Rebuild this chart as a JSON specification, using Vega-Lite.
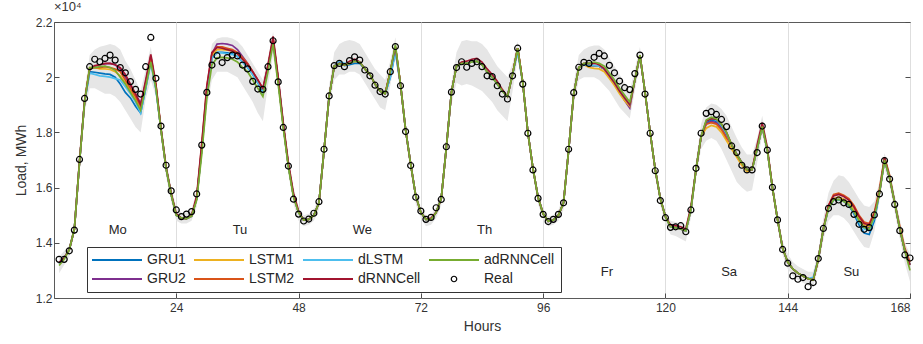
{
"$schema": "https://vega.github.io/schema/vega-lite/v6.json",
"width": 856, "height": 276,
"autosize": {"type": "none"},
"padding": {"left": 54, "top": 22, "right": 13, "bottom": 46},
"title": {"text": "×10⁴", "anchor": "start", "frame": "group", "fontSize": 13, "fontWeight": "normal", "color": "#333", "offset": 2, "font": "Liberation Sans"},
"datasets": {
"d": [
{"h":1,"Real":1.340,"lo":1.29,"hi":1.35,"GRU1":1.325,"GRU2":1.325,"LSTM1":1.325,"LSTM2":1.328,"dLSTM":1.325,"dRNNCell":1.328,"adRNNCell":1.318},
{"h":2,"Real":1.340,"lo":1.32,"hi":1.37,"GRU1":1.345,"GRU2":1.345,"LSTM1":1.345,"LSTM2":1.345,"dLSTM":1.345,"dRNNCell":1.345,"adRNNCell":1.34},
{"h":3,"Real":1.371,"lo":1.35,"hi":1.39,"GRU1":1.375,"GRU2":1.375,"LSTM1":1.375,"LSTM2":1.375,"dLSTM":1.375,"dRNNCell":1.375,"adRNNCell":1.375},
{"h":4,"Real":1.446,"lo":1.43,"hi":1.47,"GRU1":1.45,"GRU2":1.45,"LSTM1":1.45,"LSTM2":1.45,"dLSTM":1.45,"dRNNCell":1.45,"adRNNCell":1.45},
{"h":5,"Real":1.702,"lo":1.66,"hi":1.72,"GRU1":1.69,"GRU2":1.69,"LSTM1":1.69,"LSTM2":1.69,"dLSTM":1.69,"dRNNCell":1.695,"adRNNCell":1.69},
{"h":6,"Real":1.923,"lo":1.87,"hi":1.95,"GRU1":1.91,"GRU2":1.91,"LSTM1":1.91,"LSTM2":1.91,"dLSTM":1.91,"dRNNCell":1.915,"adRNNCell":1.91},
{"h":7,"Real":2.038,"lo":1.96,"hi":2.08,"GRU1":2.02,"GRU2":2.03,"LSTM1":2.035,"LSTM2":2.03,"dLSTM":2.015,"dRNNCell":2.03,"adRNNCell":2.035},
{"h":8,"Real":2.065,"lo":1.96,"hi":2.10,"GRU1":2.018,"GRU2":2.04,"LSTM1":2.035,"LSTM2":2.035,"dLSTM":2.01,"dRNNCell":2.042,"adRNNCell":2.035},
{"h":9,"Real":2.056,"lo":1.95,"hi":2.11,"GRU1":2.015,"GRU2":2.045,"LSTM1":2.03,"LSTM2":2.035,"dLSTM":2.005,"dRNNCell":2.045,"adRNNCell":2.038},
{"h":10,"Real":2.068,"lo":1.94,"hi":2.115,"GRU1":2.012,"GRU2":2.048,"LSTM1":2.03,"LSTM2":2.038,"dLSTM":2.003,"dRNNCell":2.05,"adRNNCell":2.04},
{"h":11,"Real":2.080,"lo":1.94,"hi":2.12,"GRU1":2.01,"GRU2":2.05,"LSTM1":2.028,"LSTM2":2.035,"dLSTM":2.0,"dRNNCell":2.05,"adRNNCell":2.035},
{"h":12,"Real":2.062,"lo":1.93,"hi":2.115,"GRU1":2.0,"GRU2":2.045,"LSTM1":2.02,"LSTM2":2.03,"dLSTM":1.995,"dRNNCell":2.045,"adRNNCell":2.025},
{"h":13,"Real":2.035,"lo":1.91,"hi":2.10,"GRU1":1.975,"GRU2":2.03,"LSTM1":2.005,"LSTM2":2.02,"dLSTM":1.99,"dRNNCell":2.035,"adRNNCell":2.0},
{"h":14,"Real":2.016,"lo":1.88,"hi":2.06,"GRU1":1.945,"GRU2":2.0,"LSTM1":1.98,"LSTM2":1.99,"dLSTM":1.965,"dRNNCell":2.01,"adRNNCell":1.975},
{"h":15,"Real":1.984,"lo":1.85,"hi":2.03,"GRU1":1.925,"GRU2":1.97,"LSTM1":1.95,"LSTM2":1.96,"dLSTM":1.94,"dRNNCell":1.975,"adRNNCell":1.945},
{"h":16,"Real":1.956,"lo":1.82,"hi":1.99,"GRU1":1.895,"GRU2":1.94,"LSTM1":1.92,"LSTM2":1.93,"dLSTM":1.91,"dRNNCell":1.94,"adRNNCell":1.915},
{"h":17,"Real":1.939,"lo":1.80,"hi":1.95,"GRU1":1.87,"GRU2":1.905,"LSTM1":1.885,"LSTM2":1.895,"dLSTM":1.87,"dRNNCell":1.90,"adRNNCell":1.88},
{"h":18,"Real":2.038,"lo":1.92,"hi":2.03,"GRU1":1.96,"GRU2":1.98,"LSTM1":1.97,"LSTM2":1.98,"dLSTM":1.96,"dRNNCell":1.99,"adRNNCell":1.965},
{"h":19,"Real":2.144,"lo":1.99,"hi":2.11,"GRU1":2.06,"GRU2":2.075,"LSTM1":2.07,"LSTM2":2.075,"dLSTM":2.05,"dRNNCell":2.083,"adRNNCell":2.055},
{"h":20,"Real":1.996,"lo":1.93,"hi":2.0,"GRU1":1.96,"GRU2":1.965,"LSTM1":1.965,"LSTM2":1.97,"dLSTM":1.955,"dRNNCell":1.975,"adRNNCell":1.96},
{"h":21,"Real":1.823,"lo":1.78,"hi":1.84,"GRU1":1.81,"GRU2":1.81,"LSTM1":1.81,"LSTM2":1.81,"dLSTM":1.81,"dRNNCell":1.815,"adRNNCell":1.81},
{"h":22,"Real":1.681,"lo":1.64,"hi":1.70,"GRU1":1.67,"GRU2":1.67,"LSTM1":1.67,"LSTM2":1.67,"dLSTM":1.67,"dRNNCell":1.675,"adRNNCell":1.67},
{"h":23,"Real":1.588,"lo":1.55,"hi":1.60,"GRU1":1.575,"GRU2":1.575,"LSTM1":1.575,"LSTM2":1.575,"dLSTM":1.575,"dRNNCell":1.58,"adRNNCell":1.575},
{"h":24,"Real":1.519,"lo":1.48,"hi":1.53,"GRU1":1.50,"GRU2":1.50,"LSTM1":1.50,"LSTM2":1.50,"dLSTM":1.50,"dRNNCell":1.505,"adRNNCell":1.50},
{"h":25,"Real":1.495,"lo":1.47,"hi":1.51,"GRU1":1.49,"GRU2":1.49,"LSTM1":1.49,"LSTM2":1.49,"dLSTM":1.49,"dRNNCell":1.49,"adRNNCell":1.49},
{"h":26,"Real":1.504,"lo":1.47,"hi":1.51,"GRU1":1.488,"GRU2":1.488,"LSTM1":1.488,"LSTM2":1.488,"dLSTM":1.488,"dRNNCell":1.488,"adRNNCell":1.488},
{"h":27,"Real":1.513,"lo":1.48,"hi":1.52,"GRU1":1.497,"GRU2":1.497,"LSTM1":1.497,"LSTM2":1.497,"dLSTM":1.497,"dRNNCell":1.50,"adRNNCell":1.497},
{"h":28,"Real":1.577,"lo":1.53,"hi":1.59,"GRU1":1.56,"GRU2":1.56,"LSTM1":1.56,"LSTM2":1.56,"dLSTM":1.56,"dRNNCell":1.57,"adRNNCell":1.555},
{"h":29,"Real":1.754,"lo":1.70,"hi":1.78,"GRU1":1.74,"GRU2":1.74,"LSTM1":1.74,"LSTM2":1.755,"dLSTM":1.74,"dRNNCell":1.76,"adRNNCell":1.72},
{"h":30,"Real":1.945,"lo":1.89,"hi":1.99,"GRU1":1.95,"GRU2":1.95,"LSTM1":1.95,"LSTM2":1.965,"dLSTM":1.95,"dRNNCell":1.97,"adRNNCell":1.925},
{"h":31,"Real":2.044,"lo":1.99,"hi":2.12,"GRU1":2.07,"GRU2":2.085,"LSTM1":2.075,"LSTM2":2.085,"dLSTM":2.07,"dRNNCell":2.09,"adRNNCell":2.045},
{"h":32,"Real":2.078,"lo":2.02,"hi":2.14,"GRU1":2.09,"GRU2":2.12,"LSTM1":2.10,"LSTM2":2.11,"dLSTM":2.09,"dRNNCell":2.108,"adRNNCell":2.07},
{"h":33,"Real":2.053,"lo":2.02,"hi":2.145,"GRU1":2.09,"GRU2":2.122,"LSTM1":2.10,"LSTM2":2.11,"dLSTM":2.088,"dRNNCell":2.105,"adRNNCell":2.072},
{"h":34,"Real":2.071,"lo":2.02,"hi":2.145,"GRU1":2.088,"GRU2":2.12,"LSTM1":2.098,"LSTM2":2.105,"dLSTM":2.085,"dRNNCell":2.10,"adRNNCell":2.07},
{"h":35,"Real":2.080,"lo":2.01,"hi":2.14,"GRU1":2.085,"GRU2":2.115,"LSTM1":2.095,"LSTM2":2.10,"dLSTM":2.082,"dRNNCell":2.095,"adRNNCell":2.065},
{"h":36,"Real":2.077,"lo":2.0,"hi":2.13,"GRU1":2.075,"GRU2":2.10,"LSTM1":2.085,"LSTM2":2.09,"dLSTM":2.075,"dRNNCell":2.085,"adRNNCell":2.055},
{"h":37,"Real":2.044,"lo":1.97,"hi":2.11,"GRU1":2.055,"GRU2":2.075,"LSTM1":2.065,"LSTM2":2.07,"dLSTM":2.055,"dRNNCell":2.065,"adRNNCell":2.035},
{"h":38,"Real":2.030,"lo":1.94,"hi":2.08,"GRU1":2.035,"GRU2":2.05,"LSTM1":2.045,"LSTM2":2.05,"dLSTM":2.035,"dRNNCell":2.045,"adRNNCell":2.02},
{"h":39,"Real":1.985,"lo":1.91,"hi":2.05,"GRU1":2.01,"GRU2":2.02,"LSTM1":2.015,"LSTM2":2.02,"dLSTM":2.01,"dRNNCell":2.02,"adRNNCell":1.99},
{"h":40,"Real":1.957,"lo":1.87,"hi":2.02,"GRU1":1.98,"GRU2":1.99,"LSTM1":1.985,"LSTM2":1.99,"dLSTM":1.98,"dRNNCell":1.99,"adRNNCell":1.96},
{"h":41,"Real":1.956,"lo":1.84,"hi":1.99,"GRU1":1.945,"GRU2":1.955,"LSTM1":1.95,"LSTM2":1.955,"dLSTM":1.945,"dRNNCell":1.96,"adRNNCell":1.93},
{"h":42,"Real":2.038,"lo":1.97,"hi":2.07,"GRU1":2.04,"GRU2":2.04,"LSTM1":2.04,"LSTM2":2.04,"dLSTM":2.04,"dRNNCell":2.045,"adRNNCell":2.02},
{"h":43,"Real":2.132,"lo":2.08,"hi":2.165,"GRU1":2.13,"GRU2":2.135,"LSTM1":2.135,"LSTM2":2.14,"dLSTM":2.13,"dRNNCell":2.148,"adRNNCell":2.12},
{"h":44,"Real":1.983,"lo":1.95,"hi":2.02,"GRU1":1.99,"GRU2":1.99,"LSTM1":1.99,"LSTM2":1.99,"dLSTM":1.99,"dRNNCell":2.0,"adRNNCell":1.975},
{"h":45,"Real":1.818,"lo":1.79,"hi":1.85,"GRU1":1.825,"GRU2":1.825,"LSTM1":1.825,"LSTM2":1.825,"dLSTM":1.825,"dRNNCell":1.835,"adRNNCell":1.815},
{"h":46,"Real":1.678,"lo":1.65,"hi":1.71,"GRU1":1.68,"GRU2":1.68,"LSTM1":1.68,"LSTM2":1.68,"dLSTM":1.68,"dRNNCell":1.69,"adRNNCell":1.675},
{"h":47,"Real":1.558,"lo":1.54,"hi":1.60,"GRU1":1.57,"GRU2":1.57,"LSTM1":1.57,"LSTM2":1.57,"dLSTM":1.57,"dRNNCell":1.58,"adRNNCell":1.565},
{"h":48,"Real":1.504,"lo":1.48,"hi":1.53,"GRU1":1.51,"GRU2":1.51,"LSTM1":1.51,"LSTM2":1.51,"dLSTM":1.51,"dRNNCell":1.515,"adRNNCell":1.51},
{"h":49,"Real":1.479,"lo":1.46,"hi":1.50,"GRU1":1.482,"GRU2":1.482,"LSTM1":1.482,"LSTM2":1.482,"dLSTM":1.482,"dRNNCell":1.482,"adRNNCell":1.482},
{"h":50,"Real":1.486,"lo":1.465,"hi":1.505,"GRU1":1.485,"GRU2":1.485,"LSTM1":1.485,"LSTM2":1.485,"dLSTM":1.485,"dRNNCell":1.485,"adRNNCell":1.485},
{"h":51,"Real":1.507,"lo":1.48,"hi":1.52,"GRU1":1.50,"GRU2":1.50,"LSTM1":1.50,"LSTM2":1.50,"dLSTM":1.50,"dRNNCell":1.50,"adRNNCell":1.50},
{"h":52,"Real":1.549,"lo":1.52,"hi":1.57,"GRU1":1.545,"GRU2":1.545,"LSTM1":1.545,"LSTM2":1.545,"dLSTM":1.545,"dRNNCell":1.545,"adRNNCell":1.545},
{"h":53,"Real":1.739,"lo":1.70,"hi":1.77,"GRU1":1.735,"GRU2":1.735,"LSTM1":1.735,"LSTM2":1.735,"dLSTM":1.735,"dRNNCell":1.735,"adRNNCell":1.735},
{"h":54,"Real":1.932,"lo":1.89,"hi":1.97,"GRU1":1.93,"GRU2":1.93,"LSTM1":1.93,"LSTM2":1.93,"dLSTM":1.93,"dRNNCell":1.93,"adRNNCell":1.93},
{"h":55,"Real":2.042,"lo":1.99,"hi":2.09,"GRU1":2.04,"GRU2":2.04,"LSTM1":2.04,"LSTM2":2.04,"dLSTM":2.04,"dRNNCell":2.04,"adRNNCell":2.04},
{"h":56,"Real":2.050,"lo":2.01,"hi":2.12,"GRU1":2.055,"GRU2":2.05,"LSTM1":2.05,"LSTM2":2.05,"dLSTM":2.058,"dRNNCell":2.05,"adRNNCell":2.048},
{"h":57,"Real":2.038,"lo":2.01,"hi":2.13,"GRU1":2.042,"GRU2":2.045,"LSTM1":2.045,"LSTM2":2.045,"dLSTM":2.05,"dRNNCell":2.045,"adRNNCell":2.045},
{"h":58,"Real":2.060,"lo":2.02,"hi":2.135,"GRU1":2.045,"GRU2":2.05,"LSTM1":2.05,"LSTM2":2.05,"dLSTM":2.05,"dRNNCell":2.058,"adRNNCell":2.05},
{"h":59,"Real":2.074,"lo":2.02,"hi":2.13,"GRU1":2.05,"GRU2":2.058,"LSTM1":2.058,"LSTM2":2.058,"dLSTM":2.058,"dRNNCell":2.065,"adRNNCell":2.058},
{"h":60,"Real":2.062,"lo":2.01,"hi":2.12,"GRU1":2.05,"GRU2":2.055,"LSTM1":2.055,"LSTM2":2.055,"dLSTM":2.055,"dRNNCell":2.055,"adRNNCell":2.055},
{"h":61,"Real":2.026,"lo":1.98,"hi":2.09,"GRU1":2.03,"GRU2":2.03,"LSTM1":2.03,"LSTM2":2.03,"dLSTM":2.03,"dRNNCell":2.03,"adRNNCell":2.03},
{"h":62,"Real":2.005,"lo":1.95,"hi":2.06,"GRU1":2.01,"GRU2":2.01,"LSTM1":2.01,"LSTM2":2.01,"dLSTM":2.01,"dRNNCell":2.01,"adRNNCell":2.01},
{"h":63,"Real":1.971,"lo":1.92,"hi":2.03,"GRU1":1.975,"GRU2":1.975,"LSTM1":1.975,"LSTM2":1.975,"dLSTM":1.975,"dRNNCell":1.975,"adRNNCell":1.975},
{"h":64,"Real":1.948,"lo":1.89,"hi":2.01,"GRU1":1.95,"GRU2":1.95,"LSTM1":1.95,"LSTM2":1.95,"dLSTM":1.95,"dRNNCell":1.95,"adRNNCell":1.95},
{"h":65,"Real":1.939,"lo":1.88,"hi":1.99,"GRU1":1.94,"GRU2":1.94,"LSTM1":1.94,"LSTM2":1.94,"dLSTM":1.94,"dRNNCell":1.94,"adRNNCell":1.94},
{"h":66,"Real":2.020,"lo":1.97,"hi":2.06,"GRU1":2.0,"GRU2":2.02,"LSTM1":2.02,"LSTM2":2.02,"dLSTM":2.0,"dRNNCell":2.02,"adRNNCell":2.02},
{"h":67,"Real":2.111,"lo":2.07,"hi":2.145,"GRU1":2.095,"GRU2":2.11,"LSTM1":2.11,"LSTM2":2.11,"dLSTM":2.09,"dRNNCell":2.11,"adRNNCell":2.118},
{"h":68,"Real":1.969,"lo":1.94,"hi":2.0,"GRU1":1.975,"GRU2":1.975,"LSTM1":1.975,"LSTM2":1.975,"dLSTM":1.975,"dRNNCell":1.975,"adRNNCell":1.975},
{"h":69,"Real":1.803,"lo":1.78,"hi":1.83,"GRU1":1.81,"GRU2":1.81,"LSTM1":1.81,"LSTM2":1.81,"dLSTM":1.81,"dRNNCell":1.81,"adRNNCell":1.81},
{"h":70,"Real":1.680,"lo":1.66,"hi":1.71,"GRU1":1.685,"GRU2":1.685,"LSTM1":1.685,"LSTM2":1.685,"dLSTM":1.685,"dRNNCell":1.685,"adRNNCell":1.685},
{"h":71,"Real":1.565,"lo":1.54,"hi":1.59,"GRU1":1.57,"GRU2":1.57,"LSTM1":1.57,"LSTM2":1.57,"dLSTM":1.57,"dRNNCell":1.57,"adRNNCell":1.57},
{"h":72,"Real":1.515,"lo":1.49,"hi":1.53,"GRU1":1.51,"GRU2":1.51,"LSTM1":1.51,"LSTM2":1.51,"dLSTM":1.51,"dRNNCell":1.51,"adRNNCell":1.51},
{"h":73,"Real":1.485,"lo":1.46,"hi":1.50,"GRU1":1.485,"GRU2":1.485,"LSTM1":1.485,"LSTM2":1.485,"dLSTM":1.485,"dRNNCell":1.485,"adRNNCell":1.485},
{"h":74,"Real":1.492,"lo":1.465,"hi":1.50,"GRU1":1.485,"GRU2":1.485,"LSTM1":1.485,"LSTM2":1.485,"dLSTM":1.485,"dRNNCell":1.49,"adRNNCell":1.485},
{"h":75,"Real":1.527,"lo":1.49,"hi":1.53,"GRU1":1.51,"GRU2":1.51,"LSTM1":1.51,"LSTM2":1.51,"dLSTM":1.51,"dRNNCell":1.51,"adRNNCell":1.51},
{"h":76,"Real":1.557,"lo":1.535,"hi":1.585,"GRU1":1.56,"GRU2":1.56,"LSTM1":1.56,"LSTM2":1.56,"dLSTM":1.56,"dRNNCell":1.56,"adRNNCell":1.56},
{"h":77,"Real":1.748,"lo":1.71,"hi":1.78,"GRU1":1.745,"GRU2":1.745,"LSTM1":1.745,"LSTM2":1.745,"dLSTM":1.745,"dRNNCell":1.745,"adRNNCell":1.745},
{"h":78,"Real":1.946,"lo":1.90,"hi":1.98,"GRU1":1.945,"GRU2":1.945,"LSTM1":1.945,"LSTM2":1.945,"dLSTM":1.945,"dRNNCell":1.945,"adRNNCell":1.945},
{"h":79,"Real":2.035,"lo":1.98,"hi":2.09,"GRU1":2.04,"GRU2":2.04,"LSTM1":2.04,"LSTM2":2.04,"dLSTM":2.04,"dRNNCell":2.04,"adRNNCell":2.04},
{"h":80,"Real":2.056,"lo":1.97,"hi":2.13,"GRU1":2.05,"GRU2":2.05,"LSTM1":2.05,"LSTM2":2.05,"dLSTM":2.05,"dRNNCell":2.055,"adRNNCell":2.05},
{"h":81,"Real":2.036,"lo":1.975,"hi":2.135,"GRU1":2.05,"GRU2":2.05,"LSTM1":2.05,"LSTM2":2.05,"dLSTM":2.05,"dRNNCell":2.058,"adRNNCell":2.05},
{"h":82,"Real":2.050,"lo":1.97,"hi":2.13,"GRU1":2.055,"GRU2":2.055,"LSTM1":2.055,"LSTM2":2.055,"dLSTM":2.055,"dRNNCell":2.065,"adRNNCell":2.055},
{"h":83,"Real":2.056,"lo":1.96,"hi":2.13,"GRU1":2.058,"GRU2":2.058,"LSTM1":2.058,"LSTM2":2.058,"dLSTM":2.058,"dRNNCell":2.068,"adRNNCell":2.058},
{"h":84,"Real":2.038,"lo":1.95,"hi":2.12,"GRU1":2.045,"GRU2":2.045,"LSTM1":2.045,"LSTM2":2.045,"dLSTM":2.045,"dRNNCell":2.055,"adRNNCell":2.045},
{"h":85,"Real":2.005,"lo":1.93,"hi":2.10,"GRU1":2.02,"GRU2":2.02,"LSTM1":2.02,"LSTM2":2.02,"dLSTM":2.02,"dRNNCell":2.03,"adRNNCell":2.02},
{"h":86,"Real":2.002,"lo":1.91,"hi":2.07,"GRU1":2.0,"GRU2":2.0,"LSTM1":2.0,"LSTM2":2.0,"dLSTM":2.0,"dRNNCell":2.01,"adRNNCell":2.0},
{"h":87,"Real":1.969,"lo":1.88,"hi":2.04,"GRU1":1.975,"GRU2":1.975,"LSTM1":1.975,"LSTM2":1.975,"dLSTM":1.975,"dRNNCell":1.985,"adRNNCell":1.975},
{"h":88,"Real":1.939,"lo":1.86,"hi":2.02,"GRU1":1.95,"GRU2":1.95,"LSTM1":1.95,"LSTM2":1.95,"dLSTM":1.95,"dRNNCell":1.955,"adRNNCell":1.95},
{"h":89,"Real":1.921,"lo":1.84,"hi":2.0,"GRU1":1.93,"GRU2":1.93,"LSTM1":1.93,"LSTM2":1.93,"dLSTM":1.93,"dRNNCell":1.93,"adRNNCell":1.93},
{"h":90,"Real":2.005,"lo":1.95,"hi":2.05,"GRU1":2.01,"GRU2":2.01,"LSTM1":2.01,"LSTM2":2.01,"dLSTM":2.01,"dRNNCell":2.01,"adRNNCell":2.01},
{"h":91,"Real":2.105,"lo":2.07,"hi":2.13,"GRU1":2.105,"GRU2":2.105,"LSTM1":2.105,"LSTM2":2.105,"dLSTM":2.09,"dRNNCell":2.105,"adRNNCell":2.105},
{"h":92,"Real":1.975,"lo":1.95,"hi":2.0,"GRU1":1.98,"GRU2":1.98,"LSTM1":1.98,"LSTM2":1.98,"dLSTM":1.98,"dRNNCell":1.98,"adRNNCell":1.98},
{"h":93,"Real":1.797,"lo":1.78,"hi":1.82,"GRU1":1.80,"GRU2":1.80,"LSTM1":1.80,"LSTM2":1.80,"dLSTM":1.80,"dRNNCell":1.80,"adRNNCell":1.80},
{"h":94,"Real":1.664,"lo":1.645,"hi":1.69,"GRU1":1.67,"GRU2":1.67,"LSTM1":1.67,"LSTM2":1.67,"dLSTM":1.67,"dRNNCell":1.67,"adRNNCell":1.67},
{"h":95,"Real":1.561,"lo":1.54,"hi":1.585,"GRU1":1.565,"GRU2":1.565,"LSTM1":1.565,"LSTM2":1.565,"dLSTM":1.565,"dRNNCell":1.565,"adRNNCell":1.565},
{"h":96,"Real":1.503,"lo":1.485,"hi":1.52,"GRU1":1.505,"GRU2":1.505,"LSTM1":1.505,"LSTM2":1.505,"dLSTM":1.505,"dRNNCell":1.505,"adRNNCell":1.505},
{"h":97,"Real":1.477,"lo":1.46,"hi":1.495,"GRU1":1.478,"GRU2":1.478,"LSTM1":1.478,"LSTM2":1.478,"dLSTM":1.478,"dRNNCell":1.478,"adRNNCell":1.478},
{"h":98,"Real":1.485,"lo":1.465,"hi":1.50,"GRU1":1.482,"GRU2":1.482,"LSTM1":1.482,"LSTM2":1.482,"dLSTM":1.482,"dRNNCell":1.482,"adRNNCell":1.482},
{"h":99,"Real":1.503,"lo":1.48,"hi":1.52,"GRU1":1.50,"GRU2":1.50,"LSTM1":1.50,"LSTM2":1.50,"dLSTM":1.50,"dRNNCell":1.50,"adRNNCell":1.50},
{"h":100,"Real":1.545,"lo":1.52,"hi":1.57,"GRU1":1.545,"GRU2":1.545,"LSTM1":1.545,"LSTM2":1.545,"dLSTM":1.545,"dRNNCell":1.545,"adRNNCell":1.545},
{"h":101,"Real":1.739,"lo":1.70,"hi":1.77,"GRU1":1.735,"GRU2":1.735,"LSTM1":1.735,"LSTM2":1.735,"dLSTM":1.735,"dRNNCell":1.735,"adRNNCell":1.735},
{"h":102,"Real":1.944,"lo":1.90,"hi":1.98,"GRU1":1.94,"GRU2":1.94,"LSTM1":1.94,"LSTM2":1.94,"dLSTM":1.94,"dRNNCell":1.94,"adRNNCell":1.94},
{"h":103,"Real":2.036,"lo":1.99,"hi":2.08,"GRU1":2.035,"GRU2":2.035,"LSTM1":2.035,"LSTM2":2.035,"dLSTM":2.035,"dRNNCell":2.035,"adRNNCell":2.035},
{"h":104,"Real":2.054,"lo":2.0,"hi":2.10,"GRU1":2.045,"GRU2":2.045,"LSTM1":2.045,"LSTM2":2.045,"dLSTM":2.045,"dRNNCell":2.05,"adRNNCell":2.05},
{"h":105,"Real":2.050,"lo":2.0,"hi":2.11,"GRU1":2.043,"GRU2":2.043,"LSTM1":2.035,"LSTM2":2.043,"dLSTM":2.043,"dRNNCell":2.05,"adRNNCell":2.05},
{"h":106,"Real":2.072,"lo":2.0,"hi":2.115,"GRU1":2.042,"GRU2":2.042,"LSTM1":2.032,"LSTM2":2.042,"dLSTM":2.042,"dRNNCell":2.052,"adRNNCell":2.055},
{"h":107,"Real":2.086,"lo":1.99,"hi":2.115,"GRU1":2.04,"GRU2":2.04,"LSTM1":2.03,"LSTM2":2.04,"dLSTM":2.04,"dRNNCell":2.045,"adRNNCell":2.05},
{"h":108,"Real":2.077,"lo":1.97,"hi":2.10,"GRU1":2.03,"GRU2":2.03,"LSTM1":2.02,"LSTM2":2.03,"dLSTM":2.03,"dRNNCell":2.03,"adRNNCell":2.04},
{"h":109,"Real":2.043,"lo":1.95,"hi":2.07,"GRU1":2.005,"GRU2":2.005,"LSTM1":1.995,"LSTM2":2.005,"dLSTM":2.005,"dRNNCell":2.005,"adRNNCell":2.015},
{"h":110,"Real":2.016,"lo":1.92,"hi":2.04,"GRU1":1.98,"GRU2":1.98,"LSTM1":1.97,"LSTM2":1.98,"dLSTM":1.98,"dRNNCell":1.98,"adRNNCell":1.99},
{"h":111,"Real":1.986,"lo":1.89,"hi":2.01,"GRU1":1.95,"GRU2":1.95,"LSTM1":1.94,"LSTM2":1.95,"dLSTM":1.95,"dRNNCell":1.95,"adRNNCell":1.96},
{"h":112,"Real":1.962,"lo":1.87,"hi":1.98,"GRU1":1.925,"GRU2":1.915,"LSTM1":1.915,"LSTM2":1.925,"dLSTM":1.925,"dRNNCell":1.925,"adRNNCell":1.935},
{"h":113,"Real":1.955,"lo":1.85,"hi":1.95,"GRU1":1.90,"GRU2":1.888,"LSTM1":1.895,"LSTM2":1.90,"dLSTM":1.90,"dRNNCell":1.90,"adRNNCell":1.91},
{"h":114,"Real":2.013,"lo":1.95,"hi":2.03,"GRU1":1.99,"GRU2":1.99,"LSTM1":1.99,"LSTM2":1.99,"dLSTM":1.99,"dRNNCell":1.99,"adRNNCell":1.99},
{"h":115,"Real":2.080,"lo":2.05,"hi":2.11,"GRU1":2.08,"GRU2":2.08,"LSTM1":2.08,"LSTM2":2.08,"dLSTM":2.08,"dRNNCell":2.08,"adRNNCell":2.08},
{"h":116,"Real":1.939,"lo":1.92,"hi":1.97,"GRU1":1.945,"GRU2":1.945,"LSTM1":1.945,"LSTM2":1.945,"dLSTM":1.945,"dRNNCell":1.945,"adRNNCell":1.945},
{"h":117,"Real":1.797,"lo":1.78,"hi":1.82,"GRU1":1.80,"GRU2":1.80,"LSTM1":1.80,"LSTM2":1.80,"dLSTM":1.80,"dRNNCell":1.80,"adRNNCell":1.80},
{"h":118,"Real":1.661,"lo":1.64,"hi":1.69,"GRU1":1.665,"GRU2":1.665,"LSTM1":1.665,"LSTM2":1.665,"dLSTM":1.665,"dRNNCell":1.665,"adRNNCell":1.665},
{"h":119,"Real":1.553,"lo":1.535,"hi":1.58,"GRU1":1.56,"GRU2":1.56,"LSTM1":1.56,"LSTM2":1.56,"dLSTM":1.56,"dRNNCell":1.56,"adRNNCell":1.56},
{"h":120,"Real":1.491,"lo":1.47,"hi":1.51,"GRU1":1.495,"GRU2":1.495,"LSTM1":1.495,"LSTM2":1.495,"dLSTM":1.495,"dRNNCell":1.495,"adRNNCell":1.495},
{"h":121,"Real":1.456,"lo":1.43,"hi":1.48,"GRU1":1.458,"GRU2":1.458,"LSTM1":1.458,"LSTM2":1.458,"dLSTM":1.458,"dRNNCell":1.465,"adRNNCell":1.458},
{"h":122,"Real":1.458,"lo":1.425,"hi":1.475,"GRU1":1.455,"GRU2":1.455,"LSTM1":1.455,"LSTM2":1.455,"dLSTM":1.455,"dRNNCell":1.462,"adRNNCell":1.455},
{"h":123,"Real":1.462,"lo":1.415,"hi":1.47,"GRU1":1.45,"GRU2":1.45,"LSTM1":1.45,"LSTM2":1.45,"dLSTM":1.45,"dRNNCell":1.458,"adRNNCell":1.45},
{"h":124,"Real":1.440,"lo":1.405,"hi":1.465,"GRU1":1.443,"GRU2":1.443,"LSTM1":1.443,"LSTM2":1.443,"dLSTM":1.443,"dRNNCell":1.45,"adRNNCell":1.443},
{"h":125,"Real":1.519,"lo":1.49,"hi":1.55,"GRU1":1.52,"GRU2":1.52,"LSTM1":1.52,"LSTM2":1.52,"dLSTM":1.52,"dRNNCell":1.53,"adRNNCell":1.52},
{"h":126,"Real":1.670,"lo":1.63,"hi":1.70,"GRU1":1.665,"GRU2":1.665,"LSTM1":1.665,"LSTM2":1.665,"dLSTM":1.665,"dRNNCell":1.665,"adRNNCell":1.665},
{"h":127,"Real":1.797,"lo":1.74,"hi":1.83,"GRU1":1.785,"GRU2":1.785,"LSTM1":1.785,"LSTM2":1.785,"dLSTM":1.785,"dRNNCell":1.785,"adRNNCell":1.785},
{"h":128,"Real":1.869,"lo":1.77,"hi":1.89,"GRU1":1.835,"GRU2":1.83,"LSTM1":1.815,"LSTM2":1.83,"dLSTM":1.84,"dRNNCell":1.84,"adRNNCell":1.845},
{"h":129,"Real":1.875,"lo":1.78,"hi":1.905,"GRU1":1.845,"GRU2":1.84,"LSTM1":1.825,"LSTM2":1.835,"dLSTM":1.85,"dRNNCell":1.85,"adRNNCell":1.855},
{"h":130,"Real":1.865,"lo":1.77,"hi":1.90,"GRU1":1.84,"GRU2":1.835,"LSTM1":1.82,"LSTM2":1.83,"dLSTM":1.845,"dRNNCell":1.848,"adRNNCell":1.85},
{"h":131,"Real":1.847,"lo":1.74,"hi":1.885,"GRU1":1.82,"GRU2":1.815,"LSTM1":1.80,"LSTM2":1.81,"dLSTM":1.825,"dRNNCell":1.83,"adRNNCell":1.83},
{"h":132,"Real":1.821,"lo":1.70,"hi":1.86,"GRU1":1.79,"GRU2":1.785,"LSTM1":1.77,"LSTM2":1.78,"dLSTM":1.795,"dRNNCell":1.80,"adRNNCell":1.80},
{"h":133,"Real":1.751,"lo":1.66,"hi":1.82,"GRU1":1.755,"GRU2":1.755,"LSTM1":1.74,"LSTM2":1.755,"dLSTM":1.755,"dRNNCell":1.755,"adRNNCell":1.755},
{"h":134,"Real":1.727,"lo":1.62,"hi":1.78,"GRU1":1.72,"GRU2":1.72,"LSTM1":1.71,"LSTM2":1.72,"dLSTM":1.72,"dRNNCell":1.72,"adRNNCell":1.72},
{"h":135,"Real":1.681,"lo":1.60,"hi":1.745,"GRU1":1.69,"GRU2":1.69,"LSTM1":1.68,"LSTM2":1.69,"dLSTM":1.69,"dRNNCell":1.69,"adRNNCell":1.69},
{"h":136,"Real":1.664,"lo":1.585,"hi":1.72,"GRU1":1.665,"GRU2":1.665,"LSTM1":1.658,"LSTM2":1.665,"dLSTM":1.665,"dRNNCell":1.665,"adRNNCell":1.665},
{"h":137,"Real":1.664,"lo":1.59,"hi":1.72,"GRU1":1.665,"GRU2":1.665,"LSTM1":1.665,"LSTM2":1.665,"dLSTM":1.665,"dRNNCell":1.665,"adRNNCell":1.665},
{"h":138,"Real":1.727,"lo":1.69,"hi":1.78,"GRU1":1.74,"GRU2":1.74,"LSTM1":1.74,"LSTM2":1.74,"dLSTM":1.74,"dRNNCell":1.755,"adRNNCell":1.74},
{"h":139,"Real":1.823,"lo":1.79,"hi":1.86,"GRU1":1.822,"GRU2":1.822,"LSTM1":1.822,"LSTM2":1.822,"dLSTM":1.822,"dRNNCell":1.835,"adRNNCell":1.822},
{"h":140,"Real":1.736,"lo":1.71,"hi":1.76,"GRU1":1.735,"GRU2":1.735,"LSTM1":1.735,"LSTM2":1.735,"dLSTM":1.735,"dRNNCell":1.745,"adRNNCell":1.735},
{"h":141,"Real":1.601,"lo":1.58,"hi":1.625,"GRU1":1.60,"GRU2":1.60,"LSTM1":1.60,"LSTM2":1.60,"dLSTM":1.60,"dRNNCell":1.60,"adRNNCell":1.60},
{"h":142,"Real":1.483,"lo":1.46,"hi":1.51,"GRU1":1.485,"GRU2":1.485,"LSTM1":1.485,"LSTM2":1.485,"dLSTM":1.485,"dRNNCell":1.485,"adRNNCell":1.485},
{"h":143,"Real":1.376,"lo":1.355,"hi":1.405,"GRU1":1.38,"GRU2":1.38,"LSTM1":1.38,"LSTM2":1.38,"dLSTM":1.38,"dRNNCell":1.38,"adRNNCell":1.38},
{"h":144,"Real":1.326,"lo":1.305,"hi":1.36,"GRU1":1.33,"GRU2":1.33,"LSTM1":1.33,"LSTM2":1.33,"dLSTM":1.33,"dRNNCell":1.33,"adRNNCell":1.33},
{"h":145,"Real":1.280,"lo":1.28,"hi":1.33,"GRU1":1.305,"GRU2":1.305,"LSTM1":1.305,"LSTM2":1.305,"dLSTM":1.305,"dRNNCell":1.305,"adRNNCell":1.305},
{"h":146,"Real":1.268,"lo":1.265,"hi":1.315,"GRU1":1.29,"GRU2":1.29,"LSTM1":1.29,"LSTM2":1.29,"dLSTM":1.29,"dRNNCell":1.29,"adRNNCell":1.29},
{"h":147,"Real":1.274,"lo":1.255,"hi":1.305,"GRU1":1.28,"GRU2":1.28,"LSTM1":1.28,"LSTM2":1.28,"dLSTM":1.28,"dRNNCell":1.28,"adRNNCell":1.28},
{"h":148,"Real":1.241,"lo":1.245,"hi":1.295,"GRU1":1.27,"GRU2":1.27,"LSTM1":1.27,"LSTM2":1.27,"dLSTM":1.27,"dRNNCell":1.27,"adRNNCell":1.27},
{"h":149,"Real":1.256,"lo":1.24,"hi":1.295,"GRU1":1.265,"GRU2":1.265,"LSTM1":1.265,"LSTM2":1.265,"dLSTM":1.275,"dRNNCell":1.265,"adRNNCell":1.265},
{"h":150,"Real":1.343,"lo":1.31,"hi":1.37,"GRU1":1.34,"GRU2":1.34,"LSTM1":1.34,"LSTM2":1.34,"dLSTM":1.34,"dRNNCell":1.34,"adRNNCell":1.34},
{"h":151,"Real":1.452,"lo":1.41,"hi":1.49,"GRU1":1.45,"GRU2":1.45,"LSTM1":1.45,"LSTM2":1.45,"dLSTM":1.45,"dRNNCell":1.45,"adRNNCell":1.45},
{"h":152,"Real":1.525,"lo":1.48,"hi":1.58,"GRU1":1.525,"GRU2":1.525,"LSTM1":1.525,"LSTM2":1.535,"dLSTM":1.525,"dRNNCell":1.535,"adRNNCell":1.525},
{"h":153,"Real":1.549,"lo":1.50,"hi":1.625,"GRU1":1.555,"GRU2":1.56,"LSTM1":1.56,"LSTM2":1.575,"dLSTM":1.555,"dRNNCell":1.57,"adRNNCell":1.555},
{"h":154,"Real":1.555,"lo":1.50,"hi":1.645,"GRU1":1.555,"GRU2":1.565,"LSTM1":1.565,"LSTM2":1.58,"dLSTM":1.557,"dRNNCell":1.575,"adRNNCell":1.557},
{"h":155,"Real":1.545,"lo":1.49,"hi":1.64,"GRU1":1.55,"GRU2":1.558,"LSTM1":1.558,"LSTM2":1.572,"dLSTM":1.55,"dRNNCell":1.568,"adRNNCell":1.55},
{"h":156,"Real":1.539,"lo":1.47,"hi":1.62,"GRU1":1.535,"GRU2":1.545,"LSTM1":1.545,"LSTM2":1.56,"dLSTM":1.538,"dRNNCell":1.555,"adRNNCell":1.537},
{"h":157,"Real":1.503,"lo":1.44,"hi":1.59,"GRU1":1.505,"GRU2":1.52,"LSTM1":1.52,"LSTM2":1.535,"dLSTM":1.51,"dRNNCell":1.53,"adRNNCell":1.512},
{"h":158,"Real":1.467,"lo":1.41,"hi":1.56,"GRU1":1.465,"GRU2":1.485,"LSTM1":1.49,"LSTM2":1.50,"dLSTM":1.475,"dRNNCell":1.495,"adRNNCell":1.48},
{"h":159,"Real":1.449,"lo":1.385,"hi":1.535,"GRU1":1.435,"GRU2":1.46,"LSTM1":1.465,"LSTM2":1.475,"dLSTM":1.45,"dRNNCell":1.47,"adRNNCell":1.455},
{"h":160,"Real":1.455,"lo":1.38,"hi":1.53,"GRU1":1.43,"GRU2":1.455,"LSTM1":1.46,"LSTM2":1.47,"dLSTM":1.445,"dRNNCell":1.465,"adRNNCell":1.45},
{"h":161,"Real":1.501,"lo":1.44,"hi":1.55,"GRU1":1.48,"GRU2":1.495,"LSTM1":1.50,"LSTM2":1.51,"dLSTM":1.49,"dRNNCell":1.505,"adRNNCell":1.495},
{"h":162,"Real":1.577,"lo":1.55,"hi":1.62,"GRU1":1.58,"GRU2":1.58,"LSTM1":1.58,"LSTM2":1.595,"dLSTM":1.58,"dRNNCell":1.58,"adRNNCell":1.58},
{"h":163,"Real":1.698,"lo":1.67,"hi":1.725,"GRU1":1.70,"GRU2":1.70,"LSTM1":1.70,"LSTM2":1.71,"dLSTM":1.70,"dRNNCell":1.71,"adRNNCell":1.70},
{"h":164,"Real":1.631,"lo":1.605,"hi":1.66,"GRU1":1.635,"GRU2":1.635,"LSTM1":1.635,"LSTM2":1.645,"dLSTM":1.635,"dRNNCell":1.635,"adRNNCell":1.635},
{"h":165,"Real":1.539,"lo":1.51,"hi":1.575,"GRU1":1.545,"GRU2":1.545,"LSTM1":1.545,"LSTM2":1.545,"dLSTM":1.545,"dRNNCell":1.545,"adRNNCell":1.545},
{"h":166,"Real":1.444,"lo":1.415,"hi":1.485,"GRU1":1.45,"GRU2":1.45,"LSTM1":1.45,"LSTM2":1.46,"dLSTM":1.45,"dRNNCell":1.45,"adRNNCell":1.45},
{"h":167,"Real":1.356,"lo":1.325,"hi":1.40,"GRU1":1.37,"GRU2":1.37,"LSTM1":1.37,"LSTM2":1.38,"dLSTM":1.37,"dRNNCell":1.37,"adRNNCell":1.37},
{"h":168,"Real":1.345,"lo":1.26,"hi":1.36,"GRU1":1.32,"GRU2":1.32,"LSTM1":1.32,"LSTM2":1.33,"dLSTM":1.32,"dRNNCell":1.32,"adRNNCell":1.30}
],
"days": [
{"h":12.5,"v":1.446,"t":"Mo"},{"h":36.5,"v":1.446,"t":"Tu"},{"h":60.5,"v":1.446,"t":"We"},{"h":84.5,"v":1.446,"t":"Th"},
{"h":108.5,"v":1.294,"t":"Fr"},{"h":132.5,"v":1.294,"t":"Sa"},{"h":156.5,"v":1.294,"t":"Su"}
]
},
"config": {
  "font": "Liberation Sans",
  "view": {"stroke": "#5a5a5a", "strokeWidth": 1},
  "axis": {"labelFont": "Liberation Sans", "labelFontSize": 12, "labelColor": "#333", "titleFont": "Liberation Sans", "titleFontSize": 14, "titleFontWeight": "normal", "titleColor": "#333", "tickColor": "#4d4d4d", "domain": false, "tickSize": -5}
},
"resolve": {"axis": {"y": "independent"}},
"layer": [
  {
    "data": {"name": "d"},
    "mark": {"type": "area", "color": "#e6e6e6", "opacity": 1},
    "encoding": {
      "x": {"field": "h", "type": "quantitative", "scale": {"domain": [0, 168], "nice": false, "zero": false},
            "axis": {"values": [24, 48, 72, 96, 120, 144, 168], "grid": true, "gridColor": "#dedede", "gridWidth": 1, "title": "Hours", "labelPadding": 9, "titlePadding": 6}},
      "y": {"field": "lo", "type": "quantitative", "scale": {"domain": [1.2, 2.2], "nice": false, "zero": false},
            "axis": {"values": [1.2, 1.4, 1.6, 1.8, 2.0, 2.2], "format": "~g", "title": "Load, MWh", "labelPadding": 7, "titlePadding": 7, "grid": false}},
      "y2": {"field": "hi"}
    }
  },
  {
    "data": {"name": "d"},
    "transform": [{"fold": ["GRU1", "GRU2", "LSTM1", "LSTM2", "dLSTM", "dRNNCell", "adRNNCell"], "as": ["model", "value"]}],
    "mark": {"type": "line", "strokeWidth": 1.7},
    "encoding": {
      "x": {"field": "h", "type": "quantitative"},
      "y": {"field": "value", "type": "quantitative", "scale": {"domain": [1.2, 2.2], "nice": false, "zero": false},
            "axis": {"orient": "right", "values": [1.2, 1.4, 1.6, 1.8, 2.0, 2.2], "labels": false, "title": null, "grid": false}},
      "color": {"field": "model", "type": "nominal",
        "scale": {"domain": ["GRU1", "GRU2", "LSTM1", "LSTM2", "dLSTM", "dRNNCell", "adRNNCell", "Real"],
                  "range": ["#0072BD", "#7E2F8E", "#EDB120", "#D95319", "#4DBEEE", "#A2142F", "#77AC30", "#000000"]},
        "legend": {"title": null, "orient": "none", "legendX": 33, "legendY": 225, "columns": 4, "columnPadding": 4, "rowPadding": 5, "padding": 6,
                   "strokeColor": "#333", "fillColor": "#ffffff", "labelFontSize": 14, "labelFont": "Liberation Sans", "labelColor": "#262626",
                   "symbolOffset": 17, "labelOffset": 23,
                   "symbolType": "stroke", "symbolSize": 2500, "symbolStrokeWidth": 2,
                   "encode": {"symbols": {"update": {
                      "shape": {"signal": "datum.value === 'Real' ? 'circle' : 'stroke'"},
                      "size": {"signal": "datum.value === 'Real' ? 30 : 2500"},
                      "strokeWidth": {"signal": "datum.value === 'Real' ? 1.2 : 2"},
                      "fill": {"value": "transparent"}}}}}
      }
    }
  },
  {
    "data": {"name": "d"},
    "mark": {"type": "point", "shape": "circle", "filled": false, "size": 36, "strokeWidth": 1.2, "opacity": 1},
    "encoding": {
      "x": {"field": "h", "type": "quantitative"},
      "y": {"field": "Real", "type": "quantitative", "scale": {"domain": [1.2, 2.2], "nice": false, "zero": false}, "axis": null},
      "color": {"datum": "Real", "type": "nominal"}
    }
  },
  {
    "data": {"name": "days"},
    "mark": {"type": "text", "fontSize": 13, "color": "#262626", "font": "Liberation Sans"},
    "encoding": {
      "x": {"field": "h", "type": "quantitative"},
      "y": {"field": "v", "type": "quantitative", "scale": {"domain": [1.2, 2.2], "nice": false, "zero": false}, "axis": null},
      "text": {"field": "t"}
    }
  }
]
}
